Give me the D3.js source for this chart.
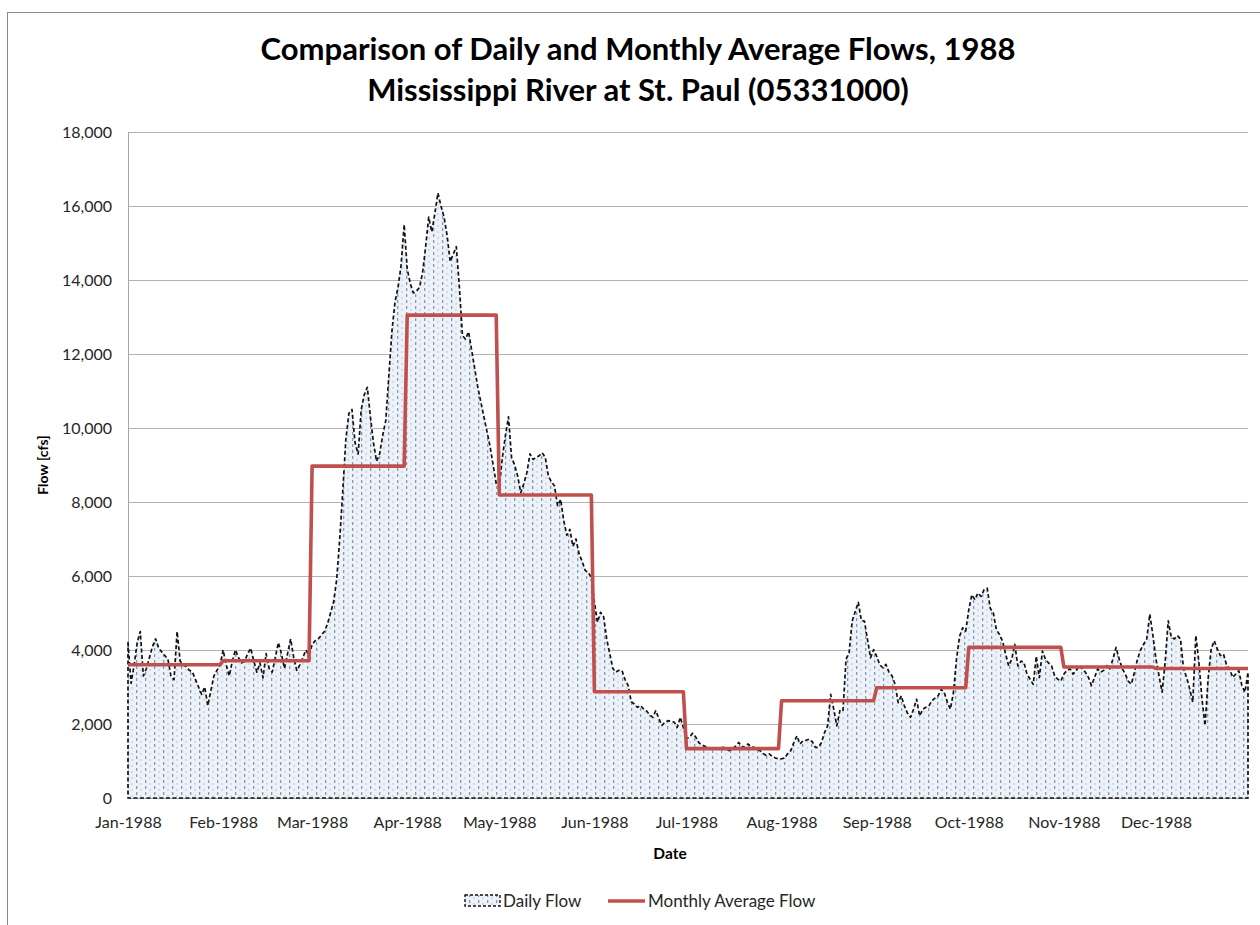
<!DOCTYPE html>
<html>
<head>
<meta charset="utf-8">
<script src="https://cdn.jsdelivr.net/npm/d3@7/dist/d3.min.js"></script>
<style>
  html, body { margin: 0; padding: 0; background: #ffffff; }
  svg { display: block; font-family: Lato, "Open Sans", "DejaVu Sans", sans-serif; }
</style>
</head>
<body>
<svg id="chart" width="1260" height="925"></svg>
<script>
// Chart text
const titleLines = [
  "Comparison of Daily and Monthly Average Flows, 1988",
  "Mississippi River at St. Paul (05331000)"
];
const monthLabels = ["Jan-1988","Feb-1988","Mar-1988","Apr-1988","May-1988","Jun-1988",
                     "Jul-1988","Aug-1988","Sep-1988","Oct-1988","Nov-1988","Dec-1988"];
const yTicks = [0, 2000, 4000, 6000, 8000, 10000, 12000, 14000, 16000, 18000];

// Monthly average flow, cfs (Jan..Dec)
const monthlyAvg = [3600, 3710, 8970, 13050, 8190, 2870, 1335, 2630, 2980, 4070, 3540, 3500];

// Daily mean flow, cfs, Jan 1 .. Dec 31 1988 (366 days)
const dailyJan = [4200,3100,3600,4200,4500,3300,3500,3800,4100,4300,4050,3950,3850,3750,3300,3200,
                  4500,3700,3600,3550,3450,3400,3200,3000,2800,3000,2500,2900,3300,3450,3600];
const dailyFeb = [4000,3600,3300,3700,4000,3800,3650,3700,3900,4050,3700,3400,3650,3250,3900,3500,
                  3400,3800,4200,3900,3500,3900,4300,3800,3450,3600,3800,4000,3850];
const dailyMar = [4150,4250,4300,4400,4500,4700,5000,5300,5900,7000,8300,9700,10400,10500,9600,9300,
                  10500,10900,11100,10300,9600,9100,9300,9800,10200,11400,12600,13400,13800,14400,15500];
const dailyApr = [14300,13900,13650,13700,13800,14200,14900,15700,15300,15800,16350,16000,15700,15200,
                  14500,14700,14900,13800,12500,12400,12600,12100,11600,11100,10700,10300,9900,9500,9000,8500];
const dailyMay = [8400,9200,9800,10300,9200,9000,8700,8250,8500,8800,9300,9150,9200,9250,9330,9200,
                  8700,8550,8430,7900,8070,7500,7100,7260,6800,7000,6600,6400,6150,6100,5950];
const dailyJun = [5300,4750,5020,4900,4300,3900,3500,3400,3450,3440,3200,3040,2600,2540,2450,2500,
                  2410,2350,2250,2180,2360,2150,1960,2050,2090,2070,2050,1910,2180,1900];
const dailyJul = [1600,1650,1750,1650,1500,1430,1400,1370,1350,1330,1340,1360,1370,1320,1280,1330,
                  1400,1500,1400,1370,1460,1400,1370,1300,1280,1200,1150,1190,1120,1080,1060];
const dailyAug = [1060,1080,1200,1280,1500,1680,1460,1550,1560,1590,1520,1370,1370,1500,1770,1950,
                  2800,2400,1950,2360,2350,3750,3920,4780,5040,5290,4800,4780,4280,3790,4010];
const dailySep = [3830,3600,3520,3610,3400,3300,3070,2580,2760,2490,2300,2180,2400,2670,2220,2400,
                  2450,2490,2630,2700,2760,2940,2850,2600,2400,2850,3750,4370,4600,4510];
const dailyOct = [5090,5490,5360,5540,5450,5630,5670,5130,5000,4550,4420,4240,3900,3570,3750,4150,
                  3570,3700,3660,3340,3210,3070,3830,3250,3970,3750,3650,3570,3300,3210,3160];
const dailyNov = [3350,3450,3490,3350,3440,3580,3490,3400,3260,3040,3260,3490,3400,3450,3580,3490,
                  3760,4070,3760,3500,3350,3150,3080,3400,3760,4000,4160,4300,4970,4400];
const dailyDec = [3760,3310,2860,3670,4790,4340,4300,4390,4300,3490,3260,2950,2590,4390,3670,2680,
                  1960,3220,4030,4250,4030,3850,3890,3600,3490,3260,3350,3440,3040,2860,3400];

const dailyFlow = [].concat(dailyJan, dailyFeb, dailyMar, dailyApr, dailyMay, dailyJun,
                            dailyJul, dailyAug, dailySep, dailyOct, dailyNov, dailyDec);

// Build dated records
const start = new Date(1988, 0, 1);
const days = dailyFlow.map((v, i) => {
  const date = d3.timeDay.offset(start, i);
  return { date, flow: v, avg: monthlyAvg[date.getMonth()] };
});

const svg = d3.select("#chart");
const plot = { left: 128, right: 1248, top: 132, bottom: 798 };

const x = d3.scaleTime()
  .domain([start, days[days.length - 1].date])
  .range([plot.left, plot.right]);
const y = d3.scaleLinear().domain([0, 18000]).range([plot.bottom, plot.top]);

// Chart area frame
svg.append("rect")
  .attr("x", 7.5).attr("y", 12.5).attr("width", 1300).attr("height", 1000)
  .attr("fill", "#ffffff").attr("stroke", "#8a8a8a").attr("stroke-width", 1);

// Fill pattern for daily flow area
const defs = svg.append("defs");
const pat = defs.append("pattern")
  .attr("id", "dailyFill").attr("patternUnits", "userSpaceOnUse")
  .attr("width", 9).attr("height", 6);
pat.append("rect").attr("width", 9).attr("height", 6).attr("fill", "#edf2f8");
pat.append("rect").attr("x", 1).attr("y", 0).attr("width", 1.3).attr("height", 3).attr("fill", "#8499b6");
pat.append("rect").attr("x", 5.5).attr("y", 3).attr("width", 1).attr("height", 2).attr("fill", "#b6c5d8");

// Title
svg.append("g").selectAll("text").data(titleLines).join("text")
  .attr("x", 638).attr("y", (d, i) => 60 + i * 41)
  .attr("text-anchor", "middle")
  .attr("font-size", 31).attr("font-weight", "bold").attr("fill", "#000")
  .text(d => d);

// Horizontal gridlines
svg.append("g").selectAll("line").data(yTicks.filter(t => t > 0)).join("line")
  .attr("x1", plot.left).attr("x2", plot.right)
  .attr("y1", d => Math.round(y(d)) + 0.5).attr("y2", d => Math.round(y(d)) + 0.5)
  .attr("stroke", "#b3b3b3").attr("stroke-width", 1);

// Y axis
const yAxis = svg.append("g")
  .attr("transform", `translate(${plot.left},0)`)
  .call(d3.axisLeft(y).tickValues(yTicks).tickSize(0).tickPadding(16)
    .tickFormat(d3.format(",")));
yAxis.select(".domain").remove();
yAxis.selectAll("text").attr("font-size", 16).attr("fill", "#262626")
  .attr("font-family", "Lato, sans-serif");

svg.append("line")
  .attr("x1", plot.left + 0.5).attr("x2", plot.left + 0.5)
  .attr("y1", plot.top).attr("y2", plot.bottom)
  .attr("stroke", "#a6a6a6").attr("stroke-width", 1);

// X axis
const monthStarts = d3.timeMonth.range(start, new Date(1989, 0, 1));
const xAxis = svg.append("g")
  .attr("transform", `translate(0,${plot.bottom})`)
  .call(d3.axisBottom(x).tickValues(monthStarts).tickSize(0).tickPadding(19)
    .tickFormat((d, i) => monthLabels[i]));
xAxis.select(".domain").attr("stroke", "#a6a6a6");
xAxis.selectAll("text").attr("font-size", 16).attr("fill", "#262626")
  .attr("font-family", "Lato, sans-serif");

// Daily flow area
const area = d3.area()
  .x(d => x(d.date)).y0(y(0)).y1(d => y(d.flow));
svg.append("path")
  .attr("d", area(days))
  .attr("fill", "url(#dailyFill)")
  .attr("stroke", "#111")
  .attr("stroke-width", 1.7)
  .attr("stroke-dasharray", "4,2.5")
  .attr("stroke-linejoin", "round");

// Monthly average step line
const avgLine = d3.line().x(d => x(d.date)).y(d => y(d.avg));
svg.append("path")
  .attr("d", avgLine(days))
  .attr("fill", "none")
  .attr("stroke", "#c0504d")
  .attr("stroke-width", 3.6)
  .attr("stroke-linejoin", "round");

// Axis titles
svg.append("text")
  .attr("transform", `translate(48,${(plot.top + plot.bottom) / 2}) rotate(-90)`)
  .attr("text-anchor", "middle")
  .attr("font-size", 14).attr("font-weight", "bold").attr("fill", "#000")
  .text("Flow [cfs]");
svg.append("text")
  .attr("x", 670).attr("y", 859)
  .attr("text-anchor", "middle")
  .attr("font-size", 15.5).attr("font-weight", "bold").attr("fill", "#000")
  .text("Date");

// Legend
const legend = svg.append("g").attr("font-size", 17).attr("fill", "#262626");
legend.append("rect")
  .attr("x", 465).attr("y", 895).attr("width", 35).attr("height", 11)
  .attr("fill", "url(#dailyFill)").attr("stroke", "#111")
  .attr("stroke-width", 1.4).attr("stroke-dasharray", "3,2");
legend.append("text").attr("x", 503).attr("y", 907).text("Daily Flow");
legend.append("line")
  .attr("x1", 608).attr("x2", 645).attr("y1", 901).attr("y2", 901)
  .attr("stroke", "#c0504d").attr("stroke-width", 3.6);
legend.append("text").attr("x", 648).attr("y", 907).text("Monthly Average Flow");
</script>
</body>
</html>
